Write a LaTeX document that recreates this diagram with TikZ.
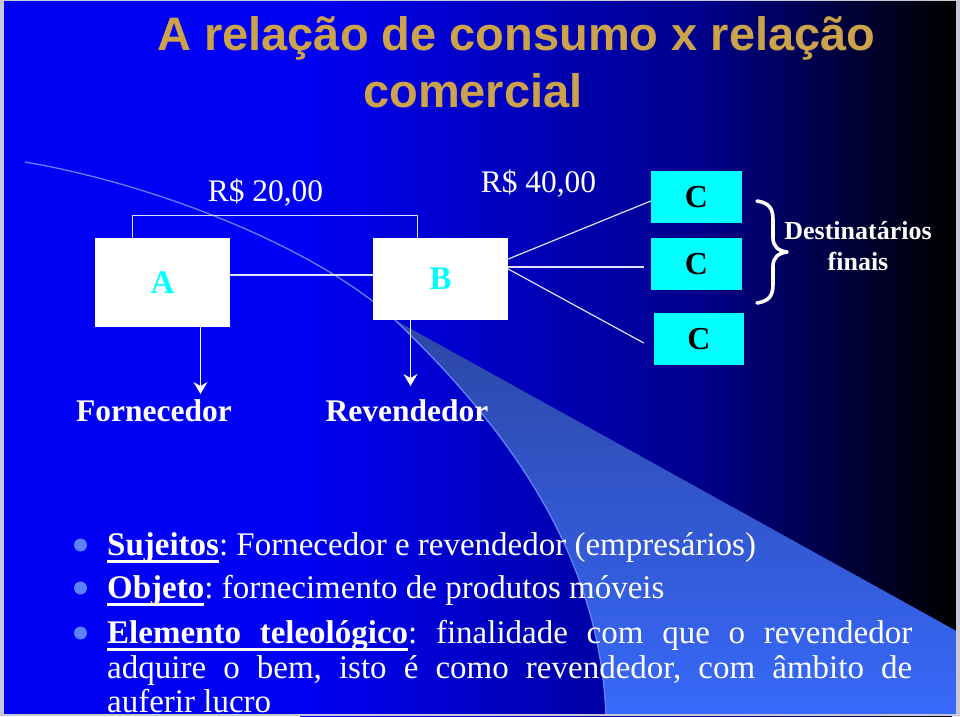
\documentclass[tikz,border=0pt]{standalone}
\usepackage{fontspec}
\setmainfont{Liberation Serif}
\newfontfamily\titlefont{Liberation Sans}
\usetikzlibrary{arrows.meta,calc}
\definecolor{bgblue}{RGB}{0,0,245}
\definecolor{midblue}{RGB}{0,0,140}
\definecolor{gold}{RGB}{204,163,74}
\definecolor{cyanbox}{RGB}{0,255,255}
\definecolor{wedgetop}{RGB}{45,70,165}
\definecolor{wedgebot}{RGB}{55,105,250}
\definecolor{curvec}{RGB}{100,130,255}
\definecolor{bulletc}{RGB}{90,130,255}
\definecolor{framec}{RGB}{200,200,215}
\definecolor{linec}{RGB}{225,225,255}
\newcommand{\myul}[1]{\setbox0\hbox{#1}\rlap{\rule[-7.5pt]{\wd0}{2.3pt}}\box0}
\begin{document}
\frenchspacing
\begin{tikzpicture}[x=1pt,y=-1pt,
  wbox/.style={fill=white, inner sep=0pt, text=cyanbox, font=\bfseries\fontsize{33}{33}\selectfont},
  cbox/.style={fill=cyanbox, inner sep=0pt, minimum width=91pt, minimum height=52pt, text=black, font=\bfseries\fontsize{32}{32}\selectfont},
  lbl/.style={text=white, anchor=base, inner sep=0pt, font=\bfseries\fontsize{31.5}{31.5}\selectfont},
  price/.style={text=white, anchor=base, inner sep=0pt, font=\fontsize{31.4}{31.4}\selectfont},
  dest/.style={text=white, anchor=base, inner sep=0pt, font=\bfseries\fontsize{26}{26}\selectfont},
  ttl/.style={text=gold, anchor=base west, inner sep=0pt, font=\titlefont\bfseries\fontsize{47}{47}\selectfont},
  btxt/.style={text=white, anchor=base west, inner sep=0pt, font=\fontsize{33}{36}\selectfont},
  bul/.style={circle, fill=bulletc, minimum size=13pt, inner sep=0pt},
  conn/.style={draw=linec, line width=1.2pt},
  arr/.style={draw=white, line width=1.3pt, -{Stealth[length=12pt, width=14pt, inset=4pt, fill=white]}}
]
\useasboundingbox (0,0) rectangle (960,716);
\clip (0,0) rectangle (960,716);
% background
\fill[bgblue] (0,0) rectangle (301,716);
\shade[left color=bgblue, right color=midblue] (300,0) rectangle (701,716);
\shade[left color=midblue, right color=black] (700,0) rectangle (952,716);
\fill[black] (951,0) rectangle (960,716);
% wedge
\shade[top color=wedgetop, bottom color=wedgebot] (395,320) -- (960,633) -- (960,716) -- (606,716)
  .. controls (600,560) and (515,435) .. (395,320) -- cycle;
\draw[curvec, line width=1.3pt] (25,162) .. controls (160,185) and (320,250) .. (395,320)
  .. controls (515,435) and (600,560) .. (606,716);
% title
\node[ttl] (t1) at (157,50) {A relação de consumo x relação};
\node[ttl] (t2) at (363,107) {comercial};
% boxes
\node[wbox, minimum width=135pt, minimum height=89pt] (A) at (162.5,282.5) {A};
\node[wbox, minimum width=135pt, minimum height=82pt] (B) at (440.5,279) {B};
\node[cbox] (C1) at (696.5,197) {C};
\node[cbox] (C2) at (696.5,264) {C};
\node[cbox, minimum width=90pt] (C3) at (699,339) {C};
% prices
\node[price] (p20) at (265.5,201) {R\$ 20,00};
\node[price] (p40) at (538.5,192) {R\$ 40,00};
% connectors
\draw[conn] ($(A.north west)+(38,0)$) -- ++(0,-22) -| ($(B.north west)+(45,0)$);
\draw[conn] ([yshift=7.5pt]A.east) -- ([yshift=4pt]B.west);
\draw[conn] ([yshift=20pt]B.east) -- ([yshift=-4pt]C1.west);
\draw[conn] ([yshift=12pt]B.east) -- ([xshift=-7pt,yshift=-3pt]C2.west);
\draw[conn] ([yshift=10pt]B.east) -- ([xshift=-10pt,yshift=-4pt]C3.west);
\coordinate (fa) at (200.5,394);
\coordinate (fb) at (410.5,386);
\draw[arr] (A.south -| fa) -- (fa);
\draw[arr] (B.south -| fb) -- (fb);
% labels
\node[lbl] (forn) at (154,421) {Fornecedor};
\node[lbl] (rev) at (407,421) {Revendedor};
% brace
\draw[white, line width=3.6pt, line join=round, line cap=round]
  (757,201) .. controls (769,203) and (773,208) .. (773,220) -- (773,238)
  .. controls (773,246) and (778,251) .. (787,252)
  .. controls (778,253) and (773,258) .. (773,266) -- (773,284)
  .. controls (773,296) and (769,301) .. (757,303);
\node[dest] (d1) at (858,239) {Destinatários};
\node[dest] (d2) at (858,270) {finais};
% bullets
\node[bul] (b1) at (80.5,545) {};
\node[bul] (b2) at (80.5,588) {};
\node[bul] (b3) at (80.5,633) {};
\node[btxt] (l1) at (107,555) {\myul{\textbf{Sujeitos}}: Fornecedor e revendedor (empresários)};
\node[btxt] (l2) at (107,598) {\myul{\textbf{Objeto}}: fornecimento de produtos móveis};
\node[btxt] (l3) at (107,643) {\makebox[805pt][s]{\myul{\textbf{Elemento}\hspace{18.75pt}\textbf{teleológico}}: finalidade com que o revendedor}};
\node[btxt] (l4) at (107,678) {\makebox[805pt][s]{adquire o bem, isto é como revendedor, com âmbito de}};
\node[btxt] (l5) at (107,712) {auferir lucro};
% frame
\fill[framec] (0,0) rectangle (4,716);
\fill[framec] (956,0) rectangle (960,716);
\fill[framec] (0,713.5) rectangle (960,716);
\fill[framec] (0,0) rectangle (960,1.2);
\end{tikzpicture}
\end{document}
